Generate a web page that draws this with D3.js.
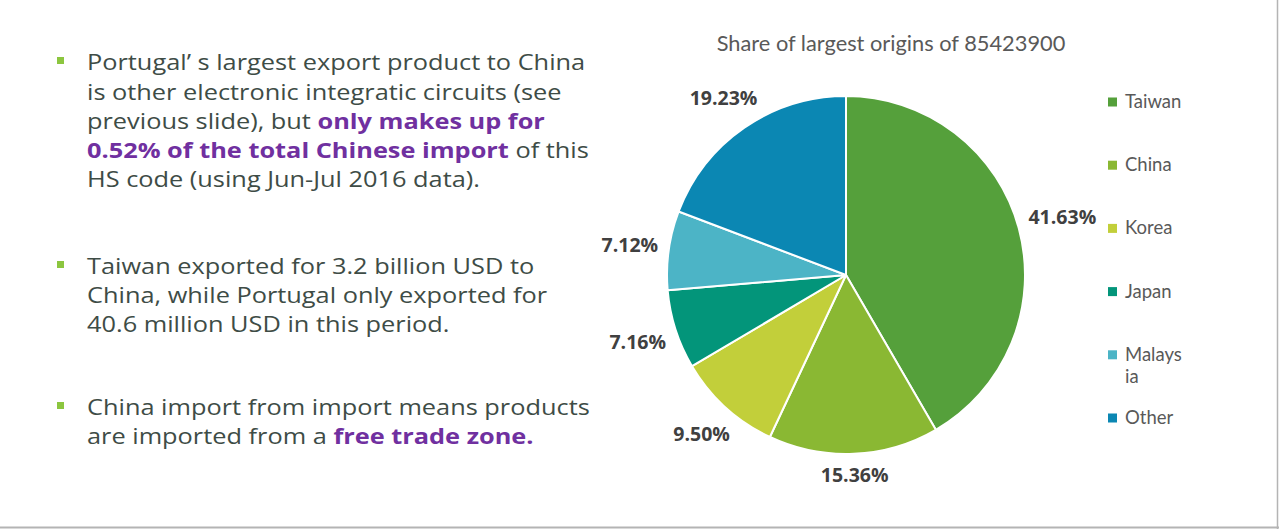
<!DOCTYPE html>
<html>
<head>
<meta charset="utf-8">
<script src="https://cdn.jsdelivr.net/npm/d3@7"></script>
<style>
  html, body { margin: 0; padding: 0; background: #fff; }
  svg { display: block; }
</style>
</head>
<body>
<svg id="chart" width="1279" height="529"></svg>
<script>
// ---- data ----
const categories = ["Taiwan", "China", "Korea", "Japan", "Malaysia", "Other"];
const legendLabels = [["Taiwan"], ["China"], ["Korea"], ["Japan"], ["Malays", "ia"], ["Other"]];
const shares = [41.63, 15.36, 9.50, 7.16, 7.12, 19.23];
const colors = ["#55a03b", "#8ab833", "#c2cf3a", "#03957a", "#4cb4c6", "#0b87b3"];
const chartTitle = "Share of largest origins of 85423900";

const paragraphs = [
  [
    [{t: "Portugal’ s largest export product to China"}],
    [{t: "is other electronic integratic circuits (see"}],
    [{t: "previous slide), but "}, {t: "only makes up for", b: true}],
    [{t: "0.52% of the total Chinese import", b: true}, {t: " of this"}],
    [{t: "HS code (using Jun-Jul 2016 data)."}]
  ],
  [
    [{t: "Taiwan exported for 3.2 billion USD to"}],
    [{t: "China, while Portugal only exported for"}],
    [{t: "40.6 million USD in this period."}]
  ],
  [
    [{t: "China import from import means products"}],
    [{t: "are imported from a "}, {t: "free trade zone.", b: true}]
  ]
];

// ---- layout ----
const svg = d3.select("#chart");
const W = 1279, H = 529;

// frame lines (slide edge)
svg.append("line").attr("x1", 0).attr("x2", W).attr("y1", H - 1.5).attr("y2", H - 1.5)
  .attr("stroke", "#b4b4b4").attr("stroke-width", 2);
svg.append("line").attr("x1", W - 1.5).attr("x2", W - 1.5).attr("y1", 0).attr("y2", H)
  .attr("stroke", "#b4b4b4").attr("stroke-width", 1.5);

// ---- left text ----
const bodyFont = "'Open Sans', 'Noto Sans', sans-serif";
const textG = svg.append("g");
const paraBaselines = [[70, 100, 129, 158, 187], [274, 303, 332], [415, 444]];
const fs = 21.2;

// horizontal stretch so the first line spans ~498px like the (wider) reference font
const line0 = paragraphs[0][0][0].t;
const probe = textG.append("text").attr("font-family", bodyFont).attr("font-size", fs).text(line0);
const w0 = probe.node().getComputedTextLength();
probe.remove();
const kx = 498 / w0;

paragraphs.forEach((para, pi) => {
  const bl = paraBaselines[pi];
  textG.append("rect")
    .attr("x", 57).attr("y", bl[0] - 13).attr("width", 7).attr("height", 7)
    .attr("fill", "#8cc63f");
  para.forEach((line, li) => {
    const t = textG.append("text")
      .attr("transform", `translate(87,${bl[li]}) scale(${kx},1)`)
      .attr("font-family", bodyFont).attr("font-size", fs)
      .attr("fill", "#3e4c46");
    line.forEach(seg => {
      t.append("tspan").text(seg.t)
        .attr("font-weight", seg.b ? 700 : 400)
        .attr("fill", seg.b ? "#7030a0" : "#3e4c46");
    });
  });
});

// ---- title ----
svg.append("text")
  .attr("x", 891).attr("y", 51)
  .attr("text-anchor", "middle")
  .attr("font-family", "Lato, 'Noto Sans', sans-serif")
  .attr("font-size", 21.8)
  .attr("fill", "#595959")
  .text(chartTitle);

// ---- pie ----
const cx = 846, cy = 275, R = 179;
const pie = d3.pie().sort(null).value(d => d.v);
const arcs = pie(categories.map((c, i) => ({c, v: shares[i], col: colors[i]})));
const arcGen = d3.arc().innerRadius(0).outerRadius(R);

const pg = svg.append("g").attr("transform", `translate(${cx},${cy})`);
pg.selectAll("path").data(arcs).join("path")
  .attr("d", arcGen)
  .attr("fill", d => d.data.col)
  .attr("stroke", "#fff")
  .attr("stroke-width", 2)
  .attr("stroke-linejoin", "round");

// data labels outside end
const fmt = d3.format(".2f");
const gap = 10;
arcs.forEach(d => {
  const a = (d.startAngle + d.endAngle) / 2;
  const sx = Math.sin(a), sy = -Math.cos(a);
  const t = pg.append("text")
    .attr("font-family", "'Open Sans', 'Noto Sans', sans-serif")
    .attr("font-weight", 700)
    .attr("font-size", 19.5)
    .attr("fill", "#404040")
    .attr("text-anchor", "middle")
    .attr("dominant-baseline", "central")
    .text(fmt(d.data.v) + "%");
  const hw = t.node().getComputedTextLength() / 2, hh = 9;
  const ext = Math.abs(sx) * hw + Math.abs(sy) * hh;
  const r = R + gap + ext;
  t.attr("x", sx * r).attr("y", sy * r);
});

// ---- legend ----
const lg = svg.append("g");
const legY = d3.scalePoint().domain(categories).range([102, 418]);
categories.forEach((c, i) => {
  const y = legY(c);
  lg.append("rect").attr("x", 1108).attr("y", y - 4.5).attr("width", 9).attr("height", 9)
    .attr("fill", colors[i]);
  const t = lg.append("text")
    .attr("x", 1125).attr("y", y + 6)
    .attr("font-family", "Lato, 'Noto Sans', sans-serif")
    .attr("font-size", 18.5)
    .attr("fill", "#595959");
  legendLabels[i].forEach((ln, k) => {
    t.append("tspan").attr("x", 1125).attr("dy", k === 0 ? 0 : 22.5).text(ln);
  });
});
</script>
</body>
</html>
